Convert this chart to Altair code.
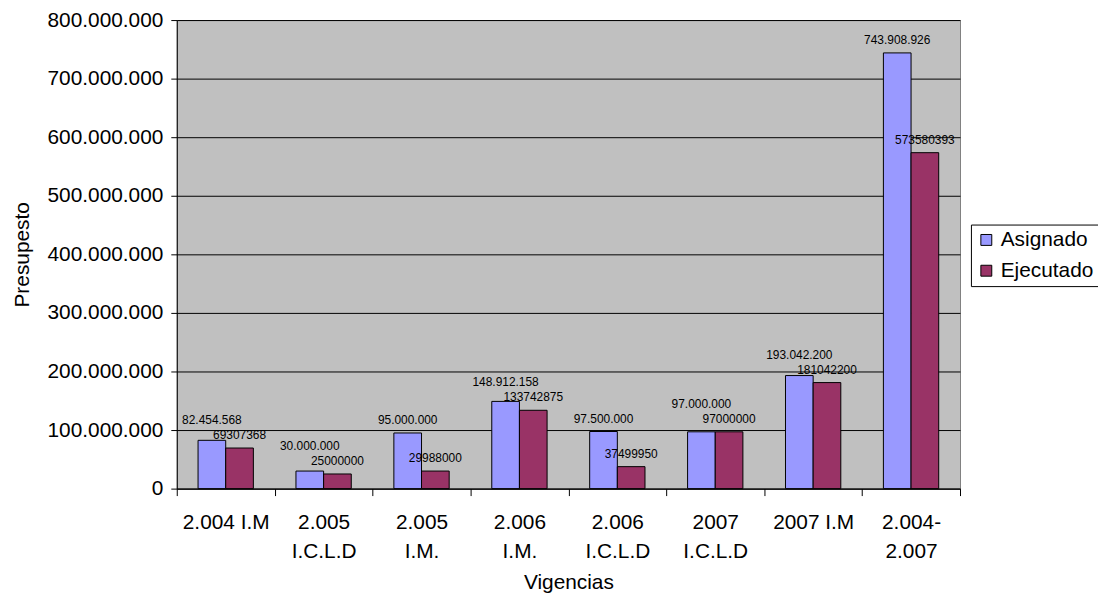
import altair as alt
import pandas as pd

categories = ["2.004 I.M", "2.005\nI.C.L.D", "2.005\nI.M.", "2.006\nI.M.",
              "2.006\nI.C.L.D", "2007\nI.C.L.D", "2007 I.M", "2.004-\n2.007"]
asignado = [82454568, 30000000, 95000000, 148912158, 97500000, 97000000, 193042200, 743908926]
ejecutado = [69307368, 25000000, 29988000, 133742875, 37499950, 97000000, 181042200, 573580393]
series = ["Asignado", "Ejecutado"]
colors = ["#9999FF", "#993366"]
y_ticks = [0, 100000000, 200000000, 300000000, 400000000, 500000000, 600000000, 700000000, 800000000]

Y_MAX = 800000000
PLOT_W, PLOT_H = 789, 472
# value units per pixel, used only to keep the "Asignado" label above the "Ejecutado" label
UNITS_PER_PX = Y_MAX / PLOT_H

rows = []
for c, a, e in zip(categories, asignado, ejecutado):
    rows.append({"Vigencia": c, "Serie": "Asignado", "Valor": a,
                 "Etiqueta": f"{a:,}".replace(",", "."),
                 "Ancla": max(a, e + 15 * UNITS_PER_PX)})
    rows.append({"Vigencia": c, "Serie": "Ejecutado", "Valor": e,
                 "Etiqueta": str(e), "Ancla": e})
df = pd.DataFrame(rows)

FONT = "Liberation Sans"
FS = 21

x_enc = alt.X("Vigencia:N", sort=categories,
              scale=alt.Scale(paddingInner=0, paddingOuter=0),
              axis=alt.Axis(title="Vigencias", labelAngle=0,
                            labelExpr="split(datum.label, '\\n')",
                            tickBand="extent", tickSize=7, tickColor="black",
                            domainColor="black", labelFont=FONT, labelFontSize=FS,
                            labelColor="black", labelPadding=16, labelLineHeight=29,
                            labelBaseline="top", labelLimit=200,
                            titleFont=FONT, titleFontSize=FS, titleFontWeight="normal",
                            titleColor="black", titlePadding=11, grid=False))
xoff_enc = alt.XOffset("Serie:N", sort=series,
                       scale=alt.Scale(domain=series, paddingOuter=0.77, paddingInner=0))
y_scale = alt.Scale(domain=[0, Y_MAX], nice=False)
y_enc = alt.Y("Valor:Q", scale=y_scale,
              axis=alt.Axis(title="Presupesto", values=y_ticks,
                            labelExpr="replace(replace(format(datum.value, ','), ',', '.'), ',', '.')",
                            grid=True, gridColor="black", gridWidth=1, gridOpacity=1,
                            tickSize=6, tickColor="black", domainColor="black",
                            labelFont=FONT, labelFontSize=FS, labelColor="black",
                            labelPadding=8, labelLimit=200, titleFont=FONT, titleFontSize=FS,
                            titleFontWeight="normal", titleColor="black", titlePadding=15))

base = alt.Chart(df)

bars = base.mark_bar(stroke="black", strokeWidth=1).encode(
    x=x_enc, xOffset=xoff_enc, y=y_enc,
    color=alt.Color("Serie:N", scale=alt.Scale(domain=series, range=colors),
                    legend=alt.Legend(title=None, orient="none", legendX=800, legendY=206,
                                      strokeColor="black", fillColor="white", padding=5,
                                      symbolType="square", symbolSize=121,
                                      symbolStrokeColor="black", symbolStrokeWidth=1,
                                      labelFont=FONT, labelFontSize=FS, labelColor="black",
                                      labelOffset=4, rowPadding=9, labelLimit=200)),
)

labels = base.mark_text(
    font=FONT, fontSize=12, color="black", baseline="middle", dy=-13
).encode(x=x_enc, xOffset=xoff_enc,
         y=alt.Y("Ancla:Q", scale=y_scale), text="Etiqueta:N")

chart = alt.layer(bars, labels).properties(
    width=PLOT_W, height=PLOT_H,
    autosize=alt.AutoSizeParams(type="none"),
    padding={"left": 170, "top": 10, "right": 139, "bottom": 103},
).configure_view(fill="#C0C0C0", stroke="#808080", strokeWidth=1)

chart.save("out.html", embed_options={"renderer": "svg", "actions": False})
